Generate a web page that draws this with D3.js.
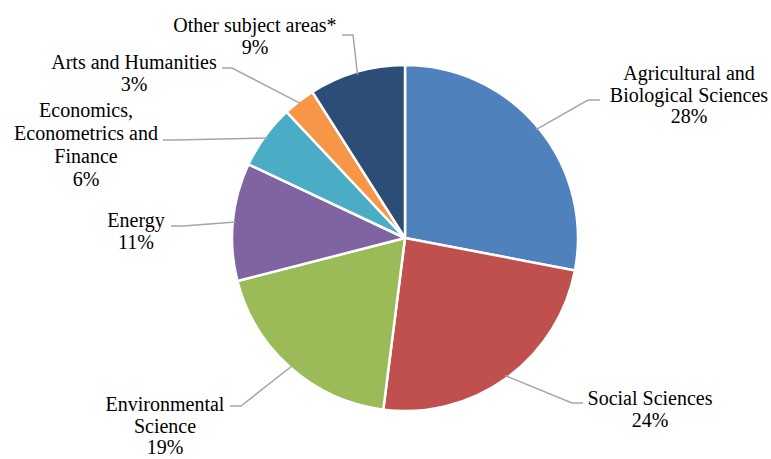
<!DOCTYPE html>
<html>
<head>
<meta charset="utf-8">
<script src="https://cdn.jsdelivr.net/npm/d3@7"></script>
<style>
  html, body { margin: 0; padding: 0; background: #fff; }
  svg { display: block; }
</style>
</head>
<body>
<svg id="chart" width="771" height="459"></svg>
<script>
// ---- data ----
const categories = [
  "Agricultural and Biological Sciences",
  "Social Sciences",
  "Environmental Science",
  "Energy",
  "Economics, Econometrics and Finance",
  "Arts and Humanities",
  "Other subject areas*"
];
const values = [28, 24, 19, 11, 6, 3, 9];
const percentLabels = ["28%", "24%", "19%", "11%", "6%", "3%", "9%"];
const labelLines = [
  ["Agricultural and", "Biological Sciences"],
  ["Social Sciences"],
  ["Environmental", "Science"],
  ["Energy"],
  ["Economics,", "Econometrics and", "Finance"],
  ["Arts and Humanities"],
  ["Other subject areas*"]
];
const colors = ["#4F81BD", "#C0504D", "#9BBB59", "#8064A2", "#4BACC6", "#F79646", "#2C4D75"];

// ---- layout (label placement, leader elbows) ----
const cx = 405, cy = 238, R = 173;
const lineH = 22;
const fontFamily = "'Liberation Serif', 'Times New Roman', Tinos, 'DejaVu Serif', serif";
const labelLayout = [
  { x: 689, y: 80,  lead: [[600, 100], [588, 100]], lh: 21.5 },
  { x: 650, y: 405, lead: [[583, 403], [572, 403]], lh: 22 },
  { x: 165, y: 411, lead: [[230, 406], [241, 406]], lh: 21.5 },
  { x: 136, y: 227, lead: [[171, 226], [183, 226]], lh: 22 },
  { x: 86,  y: 117, lead: [[163, 140], [175, 140]], lh: 23 },
  { x: 134, y: 69,  lead: [[222, 68],  [232, 68]],  lh: 21.5 },
  { x: 255, y: 32,  lead: [[342, 35],  [353, 35]],  lh: 21.5 }
];

const svg = d3.select("#chart");
const g = svg.append("g").attr("transform", `translate(${cx},${cy})`);

const pie = d3.pie().sort(null).value(d => d);
const arcs = pie(values);
const arc = d3.arc().innerRadius(0).outerRadius(R);

g.selectAll("path.slice")
  .data(arcs)
  .join("path")
  .attr("class", "slice")
  .attr("d", arc)
  .attr("fill", (d, i) => colors[i])
  .attr("stroke", "#fff")
  .attr("stroke-width", 2.5)
  .attr("stroke-linejoin", "round");

// leader lines
const line = d3.line();
arcs.forEach((a, i) => {
  const mid = (a.startAngle + a.endAngle) / 2;
  const rr = R - 3;
  const px = cx + rr * Math.sin(mid);
  const py = cy - rr * Math.cos(mid);
  const L = labelLayout[i];
  svg.append("path")
    .attr("d", line([L.lead[0], L.lead[1], [px, py]]))
    .attr("fill", "none")
    .attr("stroke", "#A6A6A6")
    .attr("stroke-width", 1.5);
});

// labels
labelLines.forEach((lines, i) => {
  const L = labelLayout[i];
  const t = svg.append("text")
    .attr("text-anchor", "middle")
    .attr("font-family", fontFamily)
    .attr("font-size", 20)
    .attr("fill", "#000");
  const all = lines.concat([percentLabels[i]]);
  all.forEach((s, k) => {
    t.append("tspan").attr("x", L.x).attr("y", L.y + k * L.lh).text(s);
  });
});
</script>
</body>
</html>
